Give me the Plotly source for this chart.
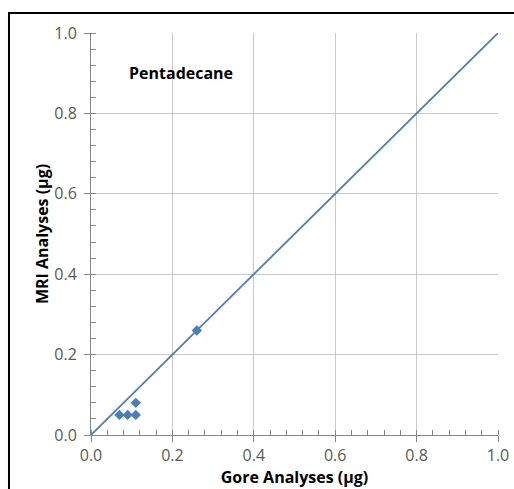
import plotly.graph_objects as go

# Measured amounts (µg)
gore_ug = [0.07, 0.09, 0.11, 0.11, 0.26]
mri_ug = [0.05, 0.05, 0.05, 0.08, 0.26]

# 1:1 reference line
line_x = [0.0, 1.0]
line_y = [0.0, 1.0]

tick_vals = [0.0, 0.2, 0.4, 0.6, 0.8, 1.0]
tick_text = ["0.0", "0.2", "0.4", "0.6", "0.8", "1.0"]

blue = "#4A7EBB"
label_font = dict(family="Open Sans, sans-serif", size=16, color="#595959")
title_font = dict(family="Open Sans, sans-serif", size=16, color="#000000")

fig = go.Figure()
fig.add_trace(go.Scatter(x=line_x, y=line_y, mode="lines",
                         line=dict(color=blue, width=1.8), showlegend=False,
                         hoverinfo="skip"))
fig.add_trace(go.Scatter(x=gore_ug, y=mri_ug, mode="markers",
                         marker=dict(symbol="diamond", size=8, color=blue),
                         showlegend=False))

axis_common = dict(
    range=[0, 1], tickvals=tick_vals, ticktext=tick_text,
    showgrid=True, gridcolor="#C8C8C8", gridwidth=1,
    showline=True, linecolor="#868686", linewidth=1,
    ticks="outside", ticklen=6, tickcolor="#868686",
    minor=dict(ticks="inside", dtick=0.04, ticklen=5, tickcolor="#868686", showgrid=False),
    tickfont=label_font, zeroline=False, fixedrange=True, automargin=False,
)

fig.update_xaxes(**axis_common, ticklabelstandoff=0,
                 title=dict(text="<b>Gore Analyses (µg)</b>", font=title_font, standoff=6))
fig.update_yaxes(**axis_common, ticklabelstandoff=4,
                 title=dict(text="<b>MRI Analyses (µg)</b>", font=title_font, standoff=1))

fig.add_annotation(text="<b>Pentadecane</b>", x=0.088, y=0.9, xref="x", yref="y",
                   xanchor="left", yanchor="middle", showarrow=False,
                   font=dict(family="Open Sans, sans-serif", size=16, color="#000000"))

# chart frame
fig.add_shape(type="rect", xref="paper", yref="paper",
              x0=-0.2015, y0=-0.3, x1=1.2, y1=1.0498,
              line=dict(color="#000000", width=2), fillcolor="rgba(0,0,0,0)",
              layer="below")

fig.update_layout(
    width=514, height=489,
    margin=dict(l=91, r=16, t=33, b=54),
    paper_bgcolor="#FFFFFF", plot_bgcolor="#FFFFFF",
)

fig.write_html("out.html")
